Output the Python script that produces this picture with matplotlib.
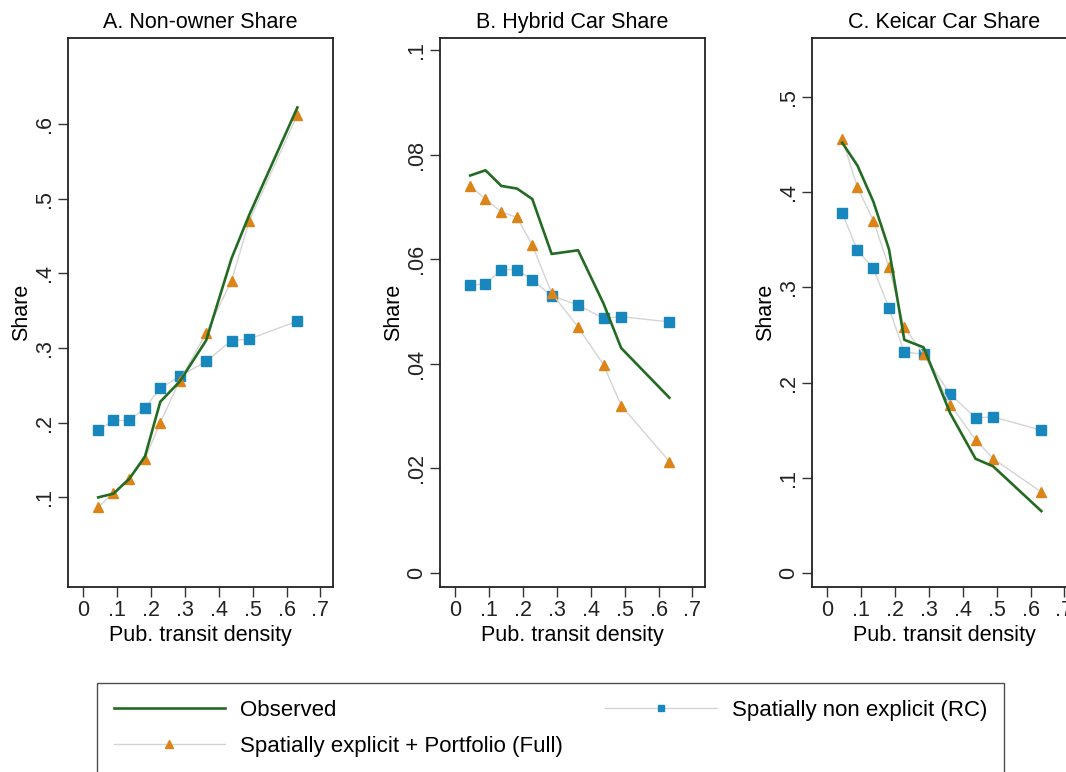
import matplotlib
matplotlib.use("Agg")
import matplotlib.pyplot as plt

plt.rcParams['font.family'] = ['Liberation Sans', 'DejaVu Sans']

# transit-density bins (shared by all panels)
density = [0.045, 0.09, 0.137, 0.183, 0.228, 0.285, 0.363, 0.438, 0.49, 0.632]

# A. non-owner share
nonowner_obs = [0.100, 0.105, 0.125, 0.155, 0.228, 0.255, 0.310, 0.420, 0.478, 0.622]
nonowner_full = [0.087, 0.106, 0.125, 0.152, 0.200, 0.256, 0.320, 0.390, 0.470, 0.612]
nonowner_rc = [0.190, 0.203, 0.203, 0.220, 0.246, 0.262, 0.282, 0.310, 0.312, 0.336]

# B. hybrid car share
hybrid_obs = [0.0760, 0.0770, 0.0740, 0.0735, 0.0715, 0.0610, 0.0617, 0.0515, 0.0430, 0.0335]
hybrid_full = [0.0740, 0.0715, 0.0690, 0.0680, 0.0627, 0.0535, 0.0470, 0.0398, 0.0320, 0.0213]
hybrid_rc = [0.0550, 0.0553, 0.0580, 0.0580, 0.0560, 0.0530, 0.0512, 0.0487, 0.0490, 0.0480]

# C. keicar share
kei_obs = [0.452, 0.428, 0.390, 0.340, 0.245, 0.237, 0.168, 0.120, 0.112, 0.065]
kei_full = [0.456, 0.405, 0.370, 0.321, 0.258, 0.230, 0.177, 0.140, 0.120, 0.085]
kei_rc = [0.378, 0.339, 0.320, 0.278, 0.232, 0.230, 0.188, 0.163, 0.164, 0.150]

titles = ["A. Non-owner Share", "B. Hybrid Car Share", "C. Keicar Car Share"]
xticks = [0, 0.1, 0.2, 0.3, 0.4, 0.5, 0.6, 0.7]
xtick_labels = ["0", ".1", ".2", ".3", ".4", ".5", ".6", ".7"]
yticks_a = [0.1, 0.2, 0.3, 0.4, 0.5, 0.6]
ylabels_a = [".1", ".2", ".3", ".4", ".5", ".6"]
yticks_b = [0, 0.02, 0.04, 0.06, 0.08, 0.1]
ylabels_b = ["0", ".02", ".04", ".06", ".08", ".1"]
yticks_c = [0, 0.1, 0.2, 0.3, 0.4, 0.5]
ylabels_c = ["0", ".1", ".2", ".3", ".4", ".5"]

GREEN = "#236b23"
ORANGE = "#dc8418"
BLUE = "#1787be"
GREY = "#d4d4d4"

W, H = 1066, 772
fig = plt.figure(figsize=(W / 100, H / 100), dpi=100)

panels = [
    (68, nonowner_obs, nonowner_full, nonowner_rc, (-0.02, 0.715), yticks_a, ylabels_a),
    (440, hybrid_obs, hybrid_full, hybrid_rc, (-0.0027, 0.1023), yticks_b, ylabels_b),
    (812, kei_obs, kei_full, kei_rc, (-0.0147, 0.562), yticks_c, ylabels_c),
]

handles = None
for title, (left, obs, full, rc, ylim, yt, ytl) in zip(titles, panels):
    ax = fig.add_axes([left / W, 1 - 587 / H, 265 / W, 549 / H])
    l_obs, = ax.plot(density, obs, color=GREEN, lw=1.9, zorder=4)
    l_rc, = ax.plot(density, rc, color=GREY, lw=1.0, marker="s", ms=6.5,
                    mfc=BLUE, mec=BLUE, zorder=2)
    l_full, = ax.plot(density, full, color=GREY, lw=1.0, marker="^", ms=7.5,
                      mfc=ORANGE, mec=ORANGE, zorder=3)
    handles = [l_obs, l_full, l_rc]
    ax.set_xlim(-0.044, 0.737)
    ax.set_ylim(*ylim)
    ax.set_xticks(xticks)
    ax.set_xticklabels(xtick_labels)
    ax.set_yticks(yt)
    ax.set_yticklabels(ytl, rotation=90, va="center")
    ax.tick_params(direction="out", length=7, width=1.0, labelsize=15.5, pad=2,
                   colors="#333333", labelcolor="#222222")
    ax.set_title(title, fontsize=15.5, pad=7)
    ax.set_xlabel("Pub. transit density", fontsize=15.5, labelpad=3)
    ax.set_ylabel("Share", fontsize=15.5, labelpad=2)
    for s in ax.spines.values():
        s.set_linewidth(1.3)
        s.set_color("#222222")

leg = fig.legend(
    handles,
    ["Observed", "Spatially explicit + Portfolio (Full)", "Spatially non explicit (RC)"],
    ncol=2, loc="upper left", bbox_to_anchor=(97 / W, 1 - 683 / H),
    numpoints=1, markerscale=0.75, handlelength=5.0, handletextpad=0.7,
    columnspacing=1.9, fontsize=16, frameon=True, fancybox=False,
    borderpad=0.75, labelspacing=0.7, borderaxespad=0,
)
leg.get_frame().set_edgecolor("#222222")
leg.get_frame().set_linewidth(1.0)

fig.savefig("out.png", dpi=100)
